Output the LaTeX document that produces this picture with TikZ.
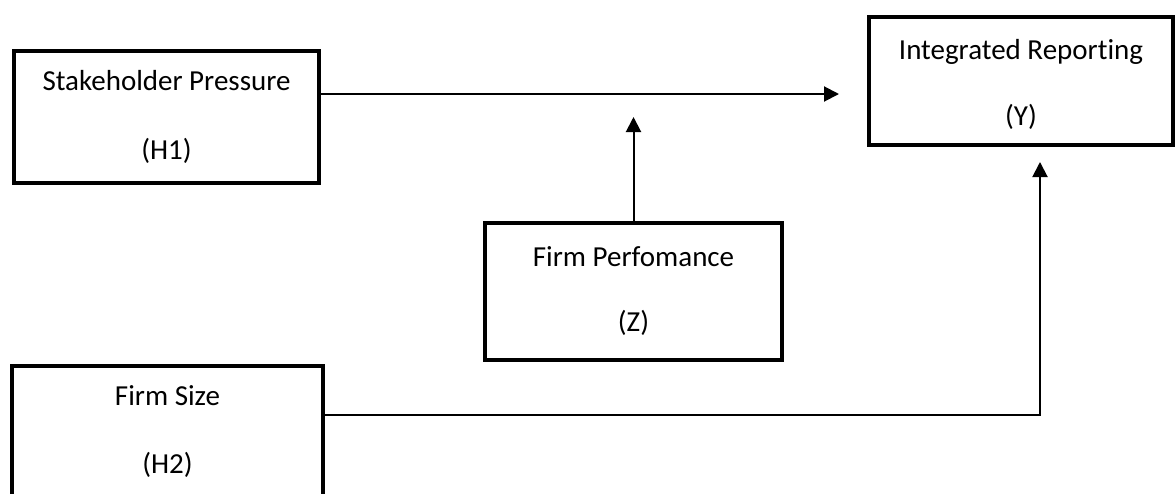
\documentclass[tikz,border=0pt]{standalone}
\usepackage{fontspec}
\setmainfont[Ligatures=NoCommon]{Carlito}
\usetikzlibrary{arrows.meta}
\begin{document}
\begin{tikzpicture}[x=1pt,y=-1pt,
  box/.style={draw, line width=4pt, align=center, inner sep=0pt,
    font=\fontsize{29}{68}\selectfont},
  link/.style={line width=2pt},
  arrowlink/.style={link, -{Triangle[width=15pt,length=15pt]}}]
\useasboundingbox (0,0) rectangle (1176,493);
\clip (0,0) rectangle (1176,493);

% variable boxes
\node[box, minimum width=305pt, minimum height=132pt] (h1) at (166.5,117)
  {Stakeholder Pressure\\[1pt](H1)};
\node[box, minimum width=304pt, minimum height=128pt, text height=94pt] (y) at (1021,81)
  {Integrated Reporting\\[-2pt](Y)};
\node[box, minimum width=297pt, minimum height=137pt] (z) at (633.5,291.5)
  {Firm Perfomance\\[-3pt](Z)};
\node[box, minimum width=311pt, minimum height=132pt] (h2) at (167.5,432)
  {Firm Size\\(H2)};

% connector end points
\coordinate (ytip) at (839,94);
\coordinate (ztip) at (633.5,117);
\coordinate (bend) at (1040,415);
\coordinate (yin) at (1040,162);

% connectors
\draw[arrowlink] (h1.east |- ytip) -- (ytip);
\draw[arrowlink] (z.north) -- (ztip);
\draw[arrowlink] (h2.east |- bend) -- (bend) -- (yin);
\end{tikzpicture}
\end{document}
